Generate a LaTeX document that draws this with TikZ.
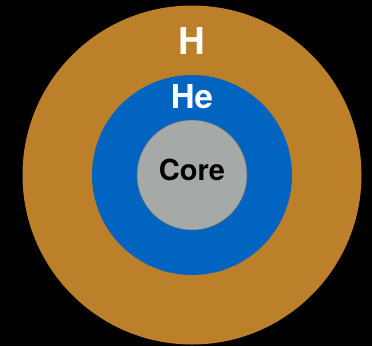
\documentclass[tikz,border=0pt]{standalone}
\usepackage{fontspec}
\setmainfont{TeX Gyre Heros}
\usetikzlibrary{positioning}
\definecolor{hydrogenfill}{HTML}{BC7F2A}
\definecolor{heliumfill}{HTML}{0064C0}
\definecolor{corefill}{HTML}{A5A9A8}
\definecolor{coreedge}{HTML}{6E7272}
\tikzset{
  layer/.style={
    circle,
    inner sep=0pt,
  },
  layer label/.style={
    inner sep=0pt,
    font=\bfseries,
  },
}

\begin{document}
\begin{tikzpicture}[x=1pt,y=-1pt]
  \fill[black] (0,0) rectangle (372,346);
  \useasboundingbox (0,0) rectangle (372,346);

  \node[layer, fill=hydrogenfill, minimum size=339pt] (hydrogen) at (192,175) {};
  \node[layer, fill=heliumfill, minimum size=200pt] (helium) at (hydrogen.center) {};
  \node[layer, fill=corefill, draw=coreedge, line width=0.5pt, minimum size=110pt] (core) at (hydrogen.center) {};

  \node[layer label, text=white, font=\fontsize{37}{37}\selectfont\bfseries,
    below=22pt of hydrogen.north] (hlabel) {H};
  \node[layer label, text=white, font=\fontsize{33}{33}\selectfont\bfseries,
    below=9pt of helium.north] (helabel) {He};
  \node[layer label, text=black, font=\fontsize{29}{29}\selectfont\bfseries,
    above=-6pt of core.center] (corelabel) {Core};
\end{tikzpicture}
\end{document}
